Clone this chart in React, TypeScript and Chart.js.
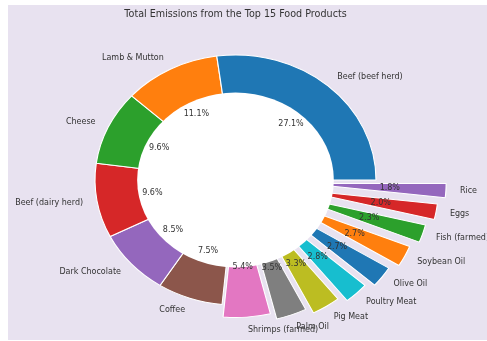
import React, { useEffect, useRef } from "react";
import { Chart, registerables } from "chart.js";

Chart.register(...registerables);

const chartTitle = "Total Emissions from the Top 15 Food Products";
const categories = [
  "Beef (beef herd)",
  "Lamb & Mutton",
  "Cheese",
  "Beef (dairy herd)",
  "Dark Chocolate",
  "Coffee",
  "Shrimps (farmed)",
  "Palm Oil",
  "Pig Meat",
  "Poultry Meat",
  "Olive Oil",
  "Soybean Oil",
  "Fish (farmed)",
  "Eggs",
  "Rice",
];
const shares = [27.1, 11.1, 9.6, 9.6, 8.5, 7.5, 5.4, 3.5, 3.3, 2.8, 2.7, 2.7, 2.3, 2.0, 1.8];
const explode = [0, 0, 0, 0, 0, 0, 0.1, 0.15, 0.2, 0.25, 0.3, 0.35, 0.4, 0.45, 0.5];
const colors = [
  "#1f77b4", "#ff7f0e", "#2ca02c", "#d62728", "#9467bd",
  "#8c564b", "#e377c2", "#7f7f7f", "#bcbd22", "#17becf",
  "#1f77b4", "#ff7f0e", "#2ca02c", "#d62728", "#9467bd",
];

const W = 487;
const H = 341;
const R = 125;
const SX = 1.124;
const HOLE = 0.7;
const PCT_DIST = 0.6;
const LABEL_DIST = 1.1;
const BG = "#e8e2f0";
const TEXT = "#333333";
const FONT = '"DejaVu Sans", sans-serif';

const total = shares.reduce((a, b) => a + b, 0);

function center(chart: any) {
  const a = chart.chartArea;
  return { cx: (a.left + a.right) / 2, cy: (a.top + a.bottom) / 2 };
}

const piePlugin = {
  id: "piePlugin",
  beforeDraw(chart: any) {
    const ctx = chart.ctx;
    ctx.save();
    ctx.fillStyle = BG;
    ctx.fillRect(8, 5, W - 8, 335);
    ctx.restore();
  },
  afterUpdate(chart: any) {
    const { cx, cy } = center(chart);
    const meta = chart.getDatasetMeta(0);
    const n = meta.data.length;
    meta.data.forEach((arc: any, j: number) => {
      const i = n - 1 - j;
      const mid = (arc.startAngle + arc.endAngle) / 2;
      const d = explode[i] * R;
      arc.x = cx + Math.cos(mid) * d;
      arc.y = cy + Math.sin(mid) * d;
    });
  },
  beforeDatasetsDraw(chart: any) {
    const ctx = chart.ctx;
    const { cx, cy } = center(chart);
    ctx.save();
    ctx.translate(cx, cy);
    ctx.scale(SX, 1);
    ctx.translate(-cx, -cy);
  },
  afterDatasetsDraw(chart: any) {
    const ctx = chart.ctx;
    const { cx, cy } = center(chart);
    ctx.beginPath();
    ctx.arc(cx, cy, HOLE * R, 0, Math.PI * 2);
    ctx.fillStyle = "#ffffff";
    ctx.fill();
    ctx.restore();
  },
  afterDraw(chart: any) {
    const ctx = chart.ctx;
    const { cx, cy } = center(chart);
    const meta = chart.getDatasetMeta(0);
    const n = meta.data.length;
    ctx.save();
    ctx.fillStyle = TEXT;
    ctx.textBaseline = "middle";
    ctx.font = `8px ${FONT}`;
    meta.data.forEach((arc: any, j: number) => {
      const i = n - 1 - j;
      const mid = (arc.startAngle + arc.endAngle) / 2;
      const c = Math.cos(mid);
      const s = Math.sin(mid);
      const pr = PCT_DIST + explode[i];
      ctx.textAlign = "center";
      ctx.fillText(((shares[i] / total) * 100).toFixed(1) + "%", cx + SX * R * pr * c, cy + R * pr * s);
      const lr = LABEL_DIST + explode[i];
      ctx.textAlign = c >= 0 ? "left" : "right";
      ctx.fillText(categories[i], cx + SX * R * lr * c, cy + R * lr * s);
    });
    ctx.font = `9.6px ${FONT}`;
    ctx.textAlign = "center";
    ctx.fillText(chartTitle, cx, 14.5);
    ctx.restore();
  },
};

export default function App() {
  const ref = useRef<HTMLCanvasElement>(null);
  useEffect(() => {
    const rev = <T,>(a: T[]) => a.slice().reverse();
    const chart = new Chart(ref.current as HTMLCanvasElement, {
      type: "pie",
      data: {
        labels: rev(categories),
        datasets: [
          {
            data: rev(shares),
            backgroundColor: rev(colors),
            borderColor: "#ffffff",
            borderWidth: 1,
            hoverOffset: 0,
            offset: 0,
            radius: R,
            clip: false,
          } as any,
        ],
      },
      options: {
        responsive: false,
        animation: false,
        events: [],
        rotation: 90,
        cutout: 0,
        layout: { padding: { left: 0, right: 16, top: 19, bottom: 0 } },
        plugins: {
          legend: { display: false },
          tooltip: { enabled: false },
          title: { display: false },
        },
      } as any,
      plugins: [piePlugin],
    });
    return () => chart.destroy();
  }, []);
  return (
    <canvas
      ref={ref}
      width={W}
      height={H}
      style={{ position: "fixed", left: 0, top: 0, width: W, height: H }}
    />
  );
}
